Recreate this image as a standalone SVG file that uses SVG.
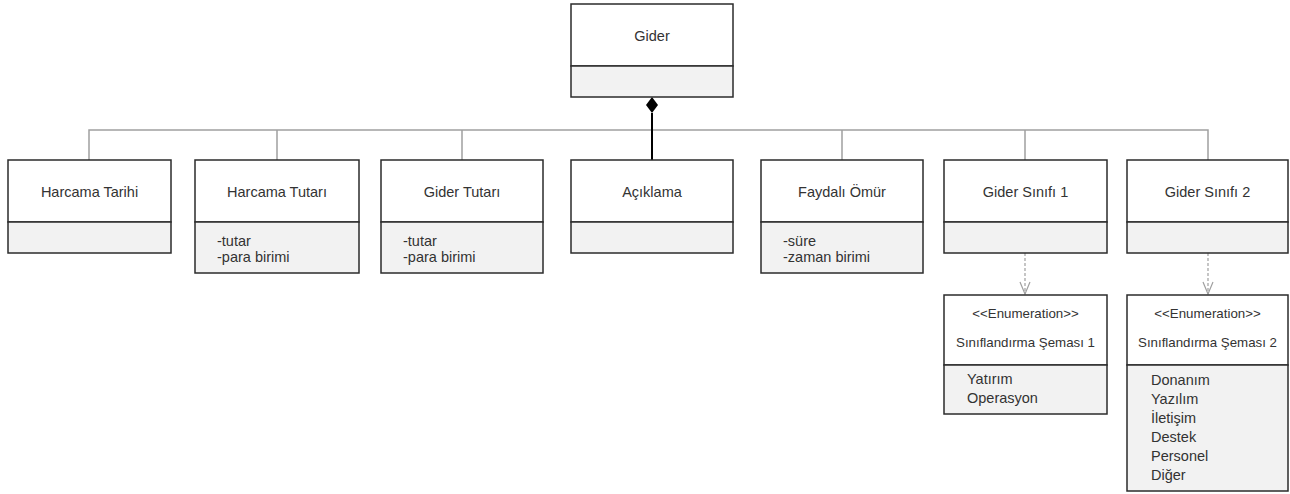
<svg xmlns="http://www.w3.org/2000/svg" width="1290" height="494" viewBox="0 0 1290 494">
<style>
.box{fill:#fff;stroke:#2b2b2b;stroke-width:1.5}
.cmp{fill:#f2f2f2;stroke:#2b2b2b;stroke-width:1.5}
.t{font-family:"Liberation Sans",Arial,sans-serif;font-size:14.5px;fill:#333;text-anchor:middle;dominant-baseline:central}
.e{font-size:13.3px}
.a{font-family:"Liberation Sans",Arial,sans-serif;font-size:14.5px;fill:#333;dominant-baseline:central}
.bus{stroke:#a0a0a0;stroke-width:1.5;fill:none}
.dep{stroke:#a0a0a0;stroke-width:1.2;fill:none;stroke-dasharray:3,2}
</style>
<defs>
<marker id="open" markerWidth="14" markerHeight="12" refX="13" refY="6" orient="auto" markerUnits="userSpaceOnUse" viewBox="0 0 14 12">
<path d="M1,1 L13,6 L1,11" fill="none" stroke="#a0a0a0" stroke-width="1.2"/>
</marker>
</defs>
<g id="connectors">
<path class="bus" d="M89,160 V130 H1208 V160"/>
<path class="bus" d="M277,130 V160 M462,130 V160 M842,130 V160 M1025,130 V160"/>
<path d="M652,113 V160" stroke="#000" stroke-width="2"/>
<path d="M652,97 L658,105 L652,113 L646,105 Z" fill="#000"/>
<path class="dep" d="M1025,253 V294" marker-end="url(#open)"/>
<path class="dep" d="M1208,253 V294" marker-end="url(#open)"/>
</g>
<g id="gider">
<rect class="box" x="571" y="4" width="162" height="62"/>
<rect class="cmp" x="571" y="66" width="162" height="31"/>
<text class="t" x="652" y="36">Gider</text>
</g>
<g id="harcama-tarihi">
<rect class="box" x="8" y="160" width="163" height="62"/>
<rect class="cmp" x="8" y="222" width="163" height="31"/>
<text class="t" x="89.5" y="192">Harcama Tarihi</text>
</g>
<g id="harcama-tutari">
<rect class="box" x="195" y="160" width="164" height="62"/>
<rect class="cmp" x="195" y="222" width="164" height="51"/>
<text class="t" x="277" y="192">Harcama Tutarı</text>
<text class="a" x="217" y="241">-tutar</text>
<text class="a" x="217" y="257">-para birimi</text>
</g>
<g id="gider-tutari">
<rect class="box" x="381" y="160" width="162" height="62"/>
<rect class="cmp" x="381" y="222" width="162" height="51"/>
<text class="t" x="462" y="192">Gider Tutarı</text>
<text class="a" x="403" y="241">-tutar</text>
<text class="a" x="403" y="257">-para birimi</text>
</g>
<g id="aciklama">
<rect class="box" x="571" y="160" width="162" height="62"/>
<rect class="cmp" x="571" y="222" width="162" height="31"/>
<text class="t" x="652" y="192">Açıklama</text>
</g>
<g id="faydali-omur">
<rect class="box" x="761" y="160" width="162" height="62"/>
<rect class="cmp" x="761" y="222" width="162" height="51"/>
<text class="t" x="842" y="192">Faydalı Ömür</text>
<text class="a" x="783" y="241">-süre</text>
<text class="a" x="783" y="257">-zaman birimi</text>
</g>
<g id="gider-sinifi-1">
<rect class="box" x="944" y="160" width="163" height="62"/>
<rect class="cmp" x="944" y="222" width="163" height="31"/>
<text class="t" x="1025.5" y="192">Gider Sınıfı 1</text>
</g>
<g id="gider-sinifi-2">
<rect class="box" x="1127" y="160" width="161" height="62"/>
<rect class="cmp" x="1127" y="222" width="161" height="31"/>
<text class="t" x="1207.5" y="192">Gider Sınıfı 2</text>
</g>
<g id="siniflandirma-1">
<rect class="box" x="944" y="295" width="163" height="70"/>
<rect class="cmp" x="944" y="365" width="163" height="49"/>
<text class="t e" x="1025.5" y="313">&lt;&lt;Enumeration&gt;&gt;</text>
<text class="t e" x="1025.5" y="342">Sınıflandırma Şeması 1</text>
<text class="a" x="967" y="379">Yatırım</text>
<text class="a" x="967" y="398">Operasyon</text>
</g>
<g id="siniflandirma-2">
<rect class="box" x="1127" y="295" width="161" height="70"/>
<rect class="cmp" x="1127" y="365" width="161" height="126"/>
<text class="t e" x="1207.5" y="313">&lt;&lt;Enumeration&gt;&gt;</text>
<text class="t e" x="1207.5" y="342">Sınıflandırma Şeması 2</text>
<text class="a" x="1151" y="380">Donanım</text>
<text class="a" x="1151" y="399">Yazılım</text>
<text class="a" x="1151" y="418">İletişim</text>
<text class="a" x="1151" y="437">Destek</text>
<text class="a" x="1151" y="456">Personel</text>
<text class="a" x="1151" y="475">Diğer</text>
</g>
</svg>
